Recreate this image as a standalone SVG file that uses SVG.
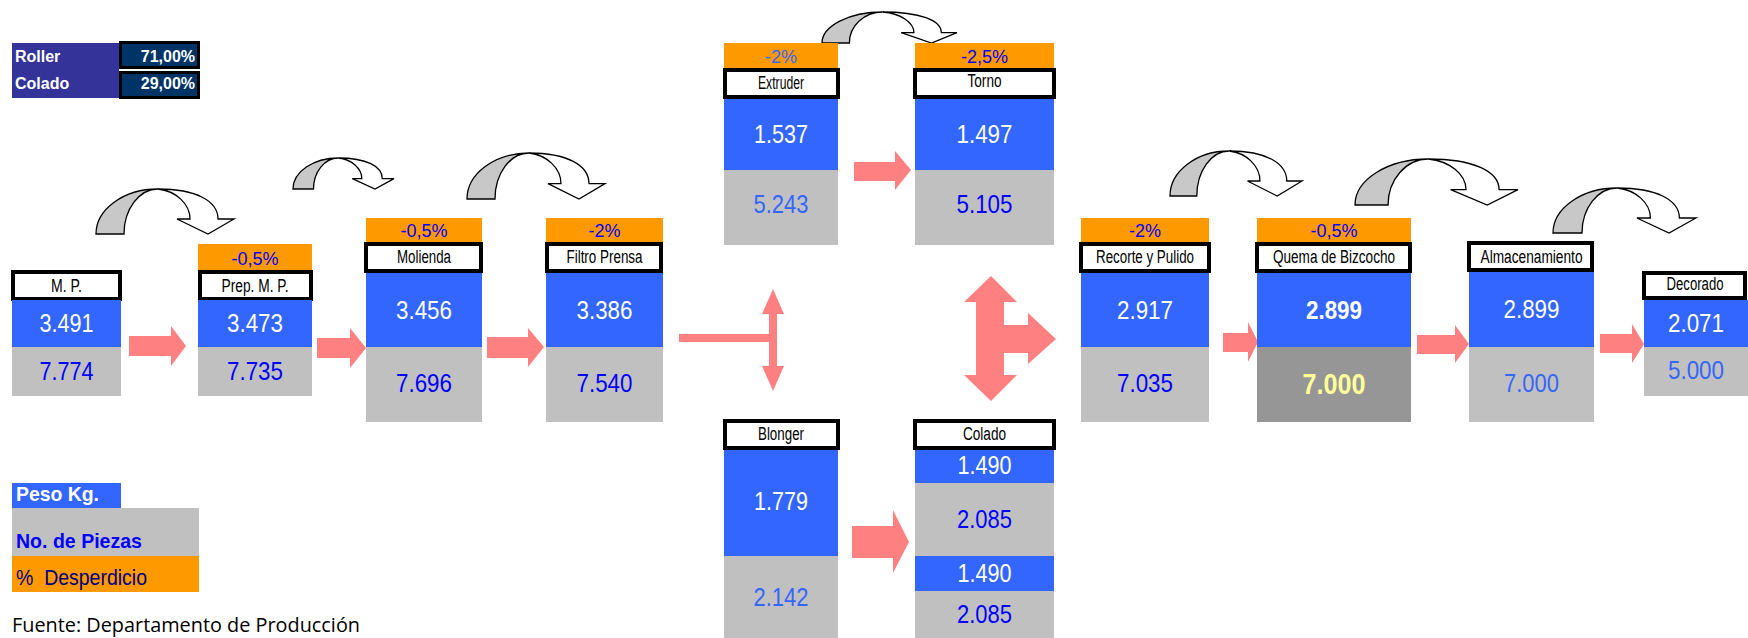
<svg xmlns="http://www.w3.org/2000/svg" xmlns:xlink="http://www.w3.org/1999/xlink" width="1748" height="638" viewBox="0 0 1748 638">
  <style>
    text { font-family: "Liberation Sans", Arial, sans-serif; }
    .blue { fill: #3366FF; }
    .gray { fill: #C0C0C0; }
    .dgray { fill: #969696; }
    .orange { fill: #FF9900; }
    .lbl { fill: #FFFFFF; stroke: #000000; stroke-width: 4; }
    .name { font-size: 18px; fill: #000000; text-anchor: middle; }
    .pct { font-size: 18px; fill: #0000FF; text-anchor: middle; }
    .num { font-size: 26px; text-anchor: middle; }
    .w { fill: #FFFFFF; }
    .db { fill: #0000FF; }
    .lb { fill: #3366FF; }
    .flow { fill: #FF8080; }
    .curl-back { fill: #C8C8C8; stroke: #000000; stroke-width: 1.3; vector-effect: non-scaling-stroke; }
    .curl-front { fill: #FFFFFF; stroke: #000000; stroke-width: 1.3; vector-effect: non-scaling-stroke; }
  </style>
  <defs>
    <!-- curved "next step" arrow, drawn in a 138 x 45 box -->
    <g id="curl">
      <path class="curl-back" d="M0,45 A62,45 0 0 1 62,0 A34,45 0 0 0 28,45 Z"/>
      <path class="curl-front" d="M62,0 C100,0 122,12 122,30 L138,30 L112,45 L81,30 L94,30 C94,15 80,2 62,0 Z"/>
    </g>
  </defs>

  <rect width="1748" height="638" fill="#FFFFFF"/>

  <!-- share table -->
  <g id="share-table">
    <rect x="12" y="43" width="107" height="55" fill="#333399"/>
    <rect x="120.5" y="42.5" width="78" height="25" fill="#003366" stroke="#000" stroke-width="3"/>
    <rect x="120.5" y="72.5" width="78" height="25" fill="#003366" stroke="#000" stroke-width="3"/>
    <text x="15" y="62" font-size="16" font-weight="bold" fill="#FFF">Roller</text>
    <text x="15" y="89" font-size="16" font-weight="bold" fill="#FFF">Colado</text>
    <text x="195" y="62" font-size="16" font-weight="bold" fill="#FFF" text-anchor="end">71,00%</text>
    <text x="195" y="89" font-size="16" font-weight="bold" fill="#FFF" text-anchor="end">29,00%</text>
  </g>

  <!-- connectors -->
  <g id="connectors">
    <!-- curved step arrows -->
    <use xlink:href="#curl" transform="translate(96,189)"/>
    <use xlink:href="#curl" transform="translate(293,158) scale(0.732,0.689)"/>
    <use xlink:href="#curl" transform="translate(467,153) scale(1,1.022)"/>
    <use xlink:href="#curl" transform="translate(822,12) scale(0.978,0.689)"/>
    <use xlink:href="#curl" transform="translate(1170,151) scale(0.957,1)"/>
    <use xlink:href="#curl" transform="translate(1355,159) scale(1.181,1.022)"/>
    <use xlink:href="#curl" transform="translate(1553,188) scale(1.036,1)"/>

    <!-- block flow arrows -->
    <polygon class="flow" points="129,336 171,336 171,326 186,346 171,366 171,356 129,356"/>
    <polygon class="flow" points="317,338 350,338 350,328 366,348 350,368 350,358 317,358"/>
    <polygon class="flow" points="487,337 528,337 528,328 544,347 528,367 528,358 487,358"/>
    <polygon class="flow" points="854,162 895,162 895,151 911,170 895,190 895,181 854,181"/>
    <polygon class="flow" points="852,526 893,526 893,510 909,542 893,573 893,558 852,558"/>
    <polygon class="flow" points="1223,333 1248,333 1248,322 1258,342 1248,362 1248,352 1223,352"/>
    <polygon class="flow" points="1417,335 1455,335 1455,325 1469,344 1455,363 1455,354 1417,354"/>
    <polygon class="flow" points="1600,334 1632,334 1632,324 1644,344 1632,363 1632,353 1600,353"/>
    <rect class="flow" x="1408.5" y="327" width="1.5" height="38"/>

    <!-- split after Filtro Prensa -->
    <rect class="flow" x="679" y="334" width="94" height="8"/>
    <rect class="flow" x="769" y="313" width="8" height="54"/>
    <polygon class="flow" points="762,314 773,289 784,314"/>
    <polygon class="flow" points="762,366 773,391 784,366"/>

    <!-- three-way join -->
    <polygon class="flow" points="991,276 1017,302 1004,302 1004,325 1028,325 1028,313 1056,339 1028,364 1028,353 1004,353 1004,375 1017,375 991,401 964,375 976,375 976,302 964,302"/>
  </g>

  <!-- process steps -->
  <g id="node-mp">
    <rect class="lbl" x="13" y="272" width="107" height="27"/>
    <text class="name" x="66.5" y="292" textLength="31" lengthAdjust="spacingAndGlyphs">M. P.</text>
    <rect class="blue" x="12" y="300" width="109" height="47"/>
    <rect class="gray" x="12" y="347" width="109" height="49"/>
    <text class="num w" x="66.5" y="332" textLength="54" lengthAdjust="spacingAndGlyphs">3.491</text>
    <text class="num db" x="66.5" y="380" textLength="54" lengthAdjust="spacingAndGlyphs">7.774</text>
  </g>

  <g id="node-prep">
    <rect class="orange" x="198" y="244" width="114" height="26"/>
    <text class="pct" x="255" y="265">-0,5%</text>
    <rect class="lbl" x="200" y="272" width="111" height="27"/>
    <text class="name" x="255" y="292" textLength="67" lengthAdjust="spacingAndGlyphs">Prep. M. P.</text>
    <rect class="blue" x="198" y="300" width="114" height="47"/>
    <rect class="gray" x="198" y="347" width="114" height="49"/>
    <text class="num w" x="255" y="332" textLength="56" lengthAdjust="spacingAndGlyphs">3.473</text>
    <text class="num db" x="255" y="380" textLength="56" lengthAdjust="spacingAndGlyphs">7.735</text>
  </g>

  <g id="node-molienda">
    <rect class="orange" x="366" y="218" width="116" height="24"/>
    <text class="pct" x="424" y="237">-0,5%</text>
    <rect class="lbl" x="366" y="244" width="115" height="27"/>
    <text class="name" x="424" y="263" textLength="54" lengthAdjust="spacingAndGlyphs">Molienda</text>
    <rect class="blue" x="366" y="273" width="116" height="74"/>
    <rect class="gray" x="366" y="347" width="116" height="75"/>
    <text class="num w" x="424" y="319" textLength="56" lengthAdjust="spacingAndGlyphs">3.456</text>
    <text class="num db" x="424" y="392" textLength="56" lengthAdjust="spacingAndGlyphs">7.696</text>
  </g>

  <g id="node-filtro">
    <rect class="orange" x="546" y="218" width="117" height="24"/>
    <text class="pct" x="604.5" y="237">-2%</text>
    <rect class="lbl" x="547" y="244" width="114" height="27"/>
    <text class="name" x="604.5" y="263" textLength="76" lengthAdjust="spacingAndGlyphs">Filtro Prensa</text>
    <rect class="blue" x="546" y="273" width="117" height="74"/>
    <rect class="gray" x="546" y="347" width="117" height="75"/>
    <text class="num w" x="604.5" y="319" textLength="56" lengthAdjust="spacingAndGlyphs">3.386</text>
    <text class="num db" x="604.5" y="392" textLength="56" lengthAdjust="spacingAndGlyphs">7.540</text>
  </g>

  <g id="node-extruder">
    <rect class="orange" x="724" y="43" width="114" height="25"/>
    <text class="pct" x="781" y="63" style="fill:#3366FF">-2%</text>
    <rect class="lbl" x="725" y="70" width="113" height="27"/>
    <text class="name" x="781" y="89" textLength="46" lengthAdjust="spacingAndGlyphs">Extruder</text>
    <rect class="blue" x="724" y="99" width="114" height="71"/>
    <rect class="gray" x="724" y="170" width="114" height="75"/>
    <text class="num w" x="781" y="143" textLength="54" lengthAdjust="spacingAndGlyphs">1.537</text>
    <text class="num lb" x="781" y="213" textLength="55" lengthAdjust="spacingAndGlyphs">5.243</text>
  </g>

  <g id="node-torno">
    <rect class="orange" x="915" y="43" width="139" height="25"/>
    <text class="pct" x="984.5" y="63">-2,5%</text>
    <rect class="lbl" x="915" y="70" width="139" height="27"/>
    <text class="name" x="984.5" y="87" textLength="34" lengthAdjust="spacingAndGlyphs">Torno</text>
    <rect class="blue" x="915" y="99" width="139" height="71"/>
    <rect class="gray" x="915" y="170" width="139" height="75"/>
    <text class="num w" x="984.5" y="143" textLength="56" lengthAdjust="spacingAndGlyphs">1.497</text>
    <text class="num db" x="984.5" y="213" textLength="56" lengthAdjust="spacingAndGlyphs">5.105</text>
  </g>

  <g id="node-blonger">
    <rect class="lbl" x="725" y="421" width="113" height="27"/>
    <text class="name" x="781" y="440" textLength="46" lengthAdjust="spacingAndGlyphs">Blonger</text>
    <rect class="blue" x="724" y="450" width="114" height="106"/>
    <rect class="gray" x="724" y="556" width="114" height="82"/>
    <text class="num w" x="781" y="510" textLength="54" lengthAdjust="spacingAndGlyphs">1.779</text>
    <text class="num lb" x="781" y="606" textLength="55" lengthAdjust="spacingAndGlyphs">2.142</text>
  </g>

  <g id="node-colado">
    <rect class="lbl" x="915" y="421" width="139" height="27"/>
    <text class="name" x="984.5" y="440" textLength="43" lengthAdjust="spacingAndGlyphs">Colado</text>
    <rect class="blue" x="915" y="450" width="139" height="33"/>
    <rect class="gray" x="915" y="483" width="139" height="73"/>
    <rect class="blue" x="915" y="556" width="139" height="35"/>
    <rect class="gray" x="915" y="591" width="139" height="47"/>
    <text class="num w" x="984.5" y="474" textLength="54" lengthAdjust="spacingAndGlyphs">1.490</text>
    <text class="num db" x="984.5" y="528" textLength="55" lengthAdjust="spacingAndGlyphs">2.085</text>
    <text class="num w" x="984.5" y="582" textLength="54" lengthAdjust="spacingAndGlyphs">1.490</text>
    <text class="num db" x="984.5" y="623" textLength="55" lengthAdjust="spacingAndGlyphs">2.085</text>
  </g>

  <g id="node-recorte">
    <rect class="orange" x="1081" y="218" width="128" height="24"/>
    <text class="pct" x="1145" y="237">-2%</text>
    <rect class="lbl" x="1081" y="244" width="128" height="27"/>
    <text class="name" x="1145" y="263" textLength="98" lengthAdjust="spacingAndGlyphs">Recorte y Pulido</text>
    <rect class="blue" x="1081" y="273" width="128" height="74"/>
    <rect class="gray" x="1081" y="347" width="128" height="75"/>
    <text class="num w" x="1145" y="319" textLength="56" lengthAdjust="spacingAndGlyphs">2.917</text>
    <text class="num db" x="1145" y="392" textLength="56" lengthAdjust="spacingAndGlyphs">7.035</text>
  </g>

  <g id="node-quema">
    <rect class="orange" x="1257" y="218" width="154" height="24"/>
    <text class="pct" x="1334" y="237">-0,5%</text>
    <rect class="lbl" x="1257" y="244" width="153" height="27"/>
    <text class="name" x="1334" y="263" textLength="122" lengthAdjust="spacingAndGlyphs">Quema de Bizcocho</text>
    <rect class="blue" x="1257" y="273" width="154" height="74"/>
    <rect class="dgray" x="1257" y="347" width="154" height="75"/>
    <text class="num w" x="1334" y="319" font-weight="bold" style="font-size:25px" textLength="56" lengthAdjust="spacingAndGlyphs">2.899</text>
    <text class="num" x="1334" y="394" font-weight="bold" style="font-size:30px;fill:#FFFF99" textLength="63" lengthAdjust="spacingAndGlyphs">7.000</text>
  </g>

  <g id="node-almacenamiento">
    <rect class="lbl" x="1469" y="243" width="123" height="27"/>
    <text class="name" x="1531.5" y="263" textLength="102" lengthAdjust="spacingAndGlyphs">Almacenamiento</text>
    <rect class="blue" x="1469" y="272" width="125" height="75"/>
    <rect class="gray" x="1469" y="347" width="125" height="75"/>
    <text class="num w" x="1531.5" y="318" textLength="56" lengthAdjust="spacingAndGlyphs">2.899</text>
    <text class="num lb" x="1531.5" y="392" textLength="55" lengthAdjust="spacingAndGlyphs">7.000</text>
  </g>

  <g id="node-decorado">
    <rect class="lbl" x="1644" y="273" width="101" height="25"/>
    <text class="name" x="1695" y="290" textLength="57" lengthAdjust="spacingAndGlyphs">Decorado</text>
    <rect class="blue" x="1644" y="300" width="104" height="47"/>
    <rect class="gray" x="1644" y="347" width="104" height="49"/>
    <text class="num w" x="1696" y="332" textLength="56" lengthAdjust="spacingAndGlyphs">2.071</text>
    <text class="num lb" x="1696" y="379" textLength="56" lengthAdjust="spacingAndGlyphs">5.000</text>
  </g>

  <!-- key -->
  <g id="legend">
    <rect class="blue" x="12" y="483" width="109" height="25"/>
    <rect class="gray" x="12" y="508" width="187" height="48"/>
    <rect class="orange" x="12" y="556" width="187" height="36"/>
    <text x="16" y="501" font-size="21" font-weight="bold" fill="#FFFFFF" textLength="83" lengthAdjust="spacingAndGlyphs">Peso Kg.</text>
    <text x="16" y="548" font-size="21" font-weight="bold" fill="#0000FF" textLength="126" lengthAdjust="spacingAndGlyphs">No. de Piezas</text>
    <text x="16" y="585" font-size="22" fill="#000080" textLength="131" lengthAdjust="spacingAndGlyphs">%&#160; Desperdicio</text>
  </g>

  <text id="source" x="12" y="632" font-size="20" fill="#000000" style="font-family:'Open Sans', 'Liberation Sans', sans-serif" textLength="348" lengthAdjust="spacingAndGlyphs">Fuente: Departamento de Producción</text>
</svg>
